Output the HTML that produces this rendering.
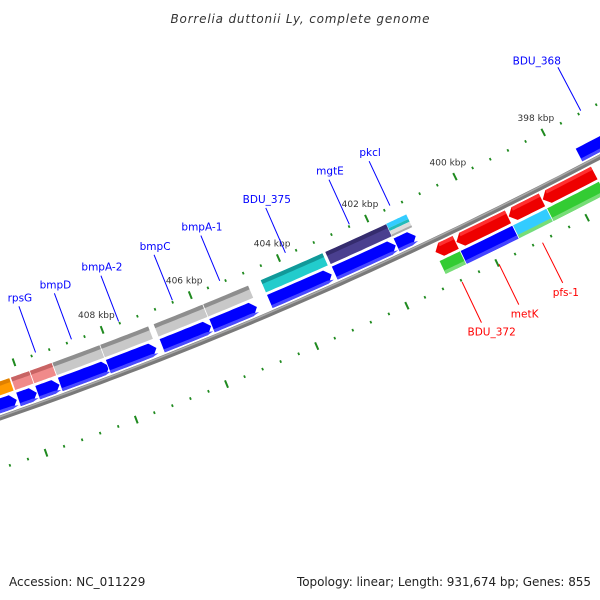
<!DOCTYPE html>
<html><head><meta charset="utf-8"><style>
body{margin:0;background:#fff}
svg{display:block}
text{font-family:"DejaVu Sans","Liberation Sans",sans-serif}
</style></head><body>
<svg id="chart" width="600" height="600" viewBox="0 0 600 600" xmlns="http://www.w3.org/2000/svg">
<rect width="600" height="600" fill="#fff"/>
<text x="300" y="23" text-anchor="middle" font-size="12" font-style="italic" fill="#333" textLength="259">Borrelia duttonii Ly, complete genome</text>
<g id="map"></g>
<text x="9" y="586" font-size="12" fill="#222">Accession: NC_011229</text>
<text x="591" y="586" font-size="12" fill="#222" text-anchor="end" textLength="294">Topology: linear; Length: 931,674 bp; Genes: 855</text>
</svg>
<script>
// ---- data (kbp) ----
const fwdStart = [411.0, 410.18, 409.75, 409.24, 408.16, 406.95, 405.83, 404.53, 403.07, 401.68, 397.58];
const fwdEnd   = [410.20, 409.75, 409.24, 408.12, 407.06, 405.83, 404.80, 403.12, 401.68, 401.23, 396.68];
const fwdCog   = ["orange","pink","pink","grey","grey","grey","grey","cyan","slate","pkc","none"];
const fwdNames = ["","","rpsG","bmpD","bmpA-2","bmpC","bmpA-1","BDU_375","mgtE","pkcl","BDU_368"];
const revStart = [401.03, 400.56, 399.39, 398.63];
const revEnd   = [400.56, 399.39, 398.63, 397.46];
const revCog   = ["green","blue","sky","green"];
const revNames = ["BDU_372","metK","pfs-1",""];
const tickLabels = [398, 400, 402, 404, 406, 408];
const tickMin = 393.6, tickMax = 412.4, tickStep = 0.4;

// ---- geometry ----
const NS="http://www.w3.org/2000/svg";
const map=document.getElementById('map');
function xAt(k){return 476-(k-400)*44.6;}
function yb(x){return 418-0.345*x-0.00015*x*x;}
function P(x0,v){const s=-0.345-0.0003*x0;const n=Math.sqrt(1+s*s);return [x0+v*(-s)/n, yb(x0)+v/n];}
function el(tag,attrs){const e=document.createElementNS(NS,tag);for(const k in attrs)e.setAttribute(k,attrs[k]);map.appendChild(e);return e;}
function band(xa,xb,v1,v2){const pts=[];const N=12;
 for(let i=0;i<=N;i++)pts.push(P(xa+(xb-xa)*i/N,v1));
 for(let i=N;i>=0;i--)pts.push(P(xa+(xb-xa)*i/N,v2));
 return pts.map(p=>p[0].toFixed(1)+','+p[1].toFixed(1)).join(' ');}
function arrow(xa,xb,v1,v2,dir){const t=6,N=10,pts=[];const vm=(v1+v2)/2;
 if(dir>0){const e=Math.max(xa,xb-t);
  for(let i=0;i<=N;i++)pts.push(P(xa+(e-xa)*i/N,v1));pts.push(P(xb,vm));
  for(let i=N;i>=0;i--)pts.push(P(xa+(e-xa)*i/N,v2));}
 else{const s=Math.min(xb,xa+t);pts.push(P(xa,vm));
  for(let i=0;i<=N;i++)pts.push(P(s+(xb-s)*i/N,v1));
  for(let i=N;i>=0;i--)pts.push(P(s+(xb-s)*i/N,v2));}
 return pts.map(p=>p[0].toFixed(1)+','+p[1].toFixed(1)).join(' ');}
const cogCol={orange:["#ff9900","#e08000"],pink:["#f08a8a","#c86464"],grey:["#c8c8c8","#8e8e8e"],cyan:["#22cccc","#119999"],slate:["#4a3f8f","#352c6e"],green:["#33cc33","#22aa22"],blue:["#0000ff","#0000cc"],sky:["#33ccff","#22aadd"]};

// backbone
let bb=[];for(let x=-60;x<=680;x+=10)bb.push(P(x,0).map(v=>v.toFixed(1)).join(','));
let e=el('polyline',{points:bb.join(' '),fill:'none',stroke:'#7a7a7a','stroke-width':5});


bb=[];for(let x=-60;x<=680;x+=10)bb.push(P(x,-1.3).map(v=>v.toFixed(1)).join(','));
e=el('polyline',{points:bb.join(' '),fill:'none',stroke:'#a8a8a8','stroke-width':1.5});



// ticks
const nT=Math.round((tickMax-tickMin)/tickStep);
for(let i=0;i<=nT;i++){const k=tickMin+i*tickStep;const x0=xAt(k);
 const major=Math.abs(k/2-Math.round(k/2))<0.01;
 [[-48,'top'],[48,'bottom']].forEach(([v,side])=>{
  const h=major?4:1.3;const a=P(x0,v-h),b=P(x0,v+h);
  const t=el('line',{x1:a[0],y1:a[1],x2:b[0],y2:b[1],stroke:'#1f8a1f','stroke-width':major?2:1.8});
  
  });}
tickLabels.forEach(k=>{const p=P(xAt(k),-64);
 const t=el('text',{x:p[0].toFixed(1),y:(p[1]+3).toFixed(1),'font-size':'9','text-anchor':'middle',fill:'#333'});
 t.textContent=k+' kbp';
 
 });

// forward genes
fwdStart.forEach((s,i)=>{const xa=xAt(s),xb=xAt(fwdEnd[i]);
 let a=el('polygon',{points:arrow(xa,xb,-19,-4,1),fill:'#0000ff',stroke:'#fff','stroke-width':0.8});
 
 
 let b=el('polygon',{points:arrow(xa+0.5,xb-0.5,-7.5,-4.4,1),fill:'#4a4aff'});
 
 
 const c=fwdCog[i];
 if(c==='pkc'){
  [["#33ccff",-35,-30],["#22bbbb",-30,-27],["#dddddd",-27,-23],["#aaaaaa",-23,-21]].forEach(([col,v1,v2])=>{
   const q=el('polygon',{points:band(xa,xb,v1,v2),fill:col});
   
   });
 } else if(c!=='none'){
  const col=cogCol[c];
  const q=el('polygon',{points:band(xa,xb,-35,-21),fill:col[0],stroke:'#fff','stroke-width':0.8});
  
  
  const r=el('polygon',{points:band(xa+0.4,xb-0.4,-34.6,-30.5),fill:col[1]});
  
  }
 if(fwdNames[i]){const p1=P((xa+xb)/2,-50),p2=P((xa+xb)/2,-99);
  const l=el('line',{x1:p1[0],y1:p1[1],x2:p2[0],y2:p2[1],stroke:'#0000ff','stroke-width':1});
  
  
  const last=i===fwdNames.length-1;
  const t=el('text',{x:(p2[0]+(last?3:1)).toFixed(1),y:(p2[1]-(last?3:5)).toFixed(1),'font-size':'10.5','text-anchor':last?'end':'middle',fill:'#0000ff'});
  t.textContent=fwdNames[i];
  
  }
});

// reverse genes
revStart.forEach((s,i)=>{const xa=xAt(s),xb=xAt(revEnd[i]);
 const a=el('polygon',{points:arrow(xa,xb,4,19,-1),fill:'#ee0000',stroke:'#fff','stroke-width':0.8});
 
 
 const b=el('polygon',{points:band(xa+6,xb-0.5,4.4,8),fill:'#ff3030'});
 
 
 const col=cogCol[revCog[i]];
 const q=el('polygon',{points:band(xa,xb,21,36),fill:col[0],stroke:'#fff','stroke-width':0.8});
 
 
 const r=el('polygon',{points:band(xa+0.4,xb-0.4,32,35.6),fill:col[0]==='#0000ff'?'#4444ff':'#77dd77'});
 
 
 if(revNames[i]){const p1=P((xa+xb)/2,50),p2=P((xa+xb)/2,95);
  const l=el('line',{x1:p1[0],y1:p1[1],x2:p2[0],y2:p2[1],stroke:'#ff0000','stroke-width':1});
  
  
  const t=el('text',{x:(p2[0]-revNames[i].length*2).toFixed(1),y:(p2[1]+13).toFixed(1),'font-size':'10.5',fill:'#ff0000'});
  t.textContent=revNames[i];
  
  }
});
</script>
</body></html>
